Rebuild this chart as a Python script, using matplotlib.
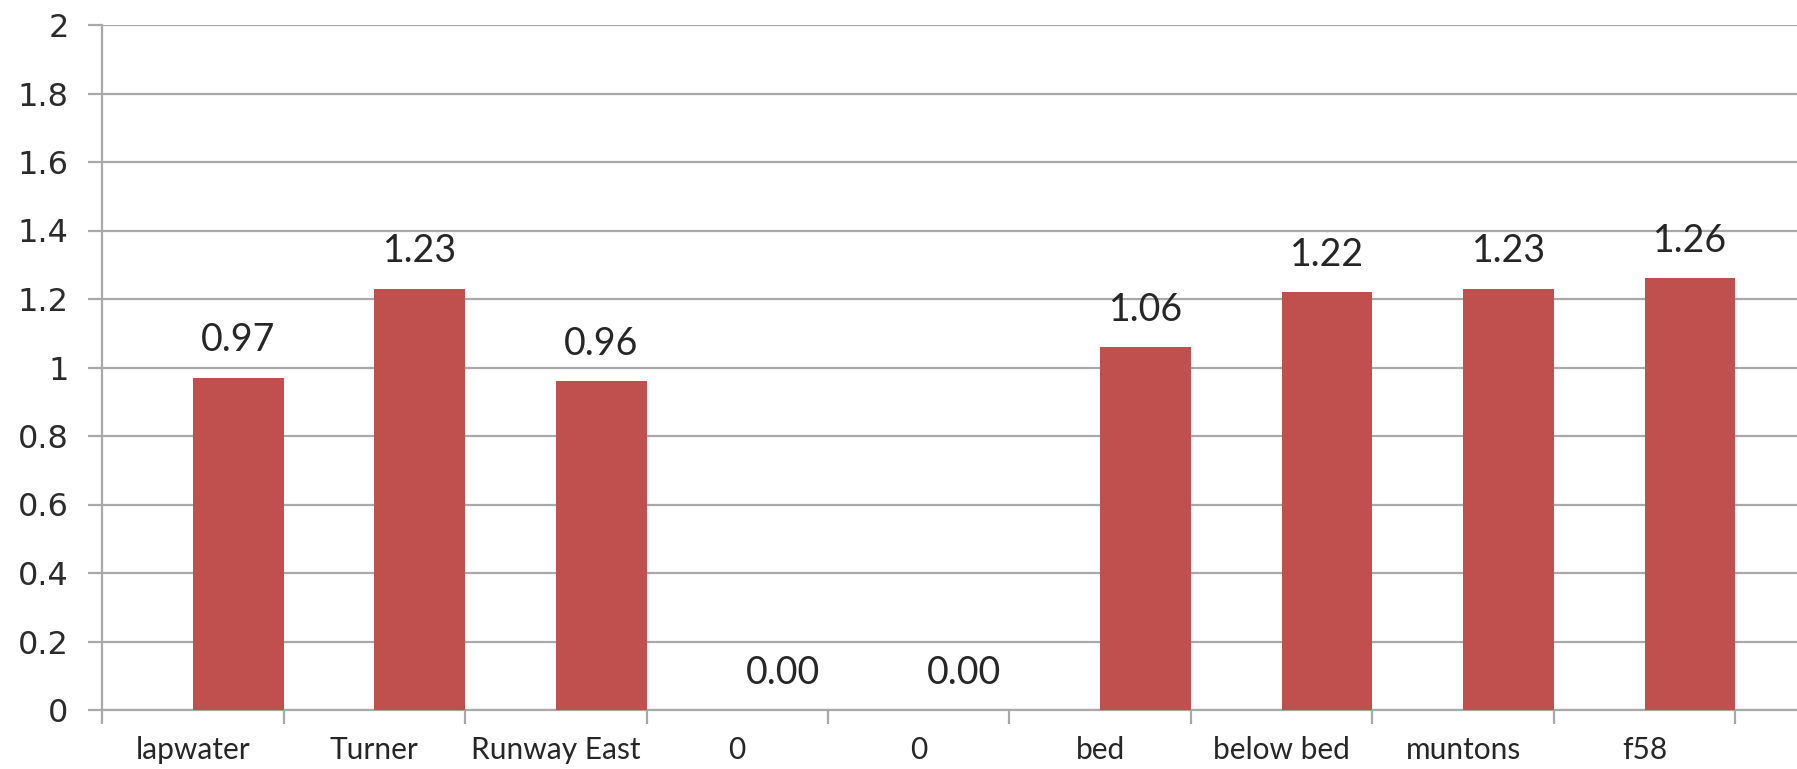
import matplotlib
matplotlib.use("Agg")
import matplotlib.pyplot as plt
from matplotlib.ticker import FixedLocator

categories = ["lapwater", "Turner", "Runway East", "0", "0", "bed", "below bed", "muntons", "f58"]
values = [0.97, 1.23, 0.96, 0.00, 0.00, 1.06, 1.22, 1.23, 1.26]
y_ticks = [0, 0.2, 0.4, 0.6, 0.8, 1, 1.2, 1.4, 1.6, 1.8, 2]
y_labels = ["0", "0.2", "0.4", "0.6", "0.8", "1", "1.2", "1.4", "1.6", "1.8", "2"]

W, H, DPI = 1797, 769, 100
fig = plt.figure(figsize=(W / DPI, H / DPI), dpi=DPI)
left = 102 / W
bottom = (H - 710) / H
top = (H - 25) / H
ax = fig.add_axes([left, bottom, 1 - left, top - bottom])

bar_color = "#C0504D"
grid_color = "#A9A9A9"
x = list(range(len(categories)))
bx = [i + 0.25 for i in x]
ax.bar(bx, values, width=0.5, color=bar_color, zorder=3)

for xi, v in zip(bx, values):
    ax.annotate(f"{v:.2f}", (xi, v), xytext=(0, 19), textcoords="offset points",
                ha="center", va="baseline", fontsize=27, family="Lato", color="#262626")

cat_w = 181.5
ax.set_xlim(-0.5, -0.5 + (W - 102) / cat_w)
ax.set_ylim(0, 2)
ax.set_yticks(y_ticks)
ax.set_yticklabels(y_labels, fontsize=23, family="DejaVu Sans", color="#2b2b2b")
ax.yaxis.grid(True, color=grid_color, linewidth=1.6, zorder=0)
ax.tick_params(axis="y", length=10, width=1.6, color=grid_color, pad=14)

ax.set_xticks(x)
ax.set_xticklabels(categories, fontsize=21.5, family="Lato", color="#262626")
ax.xaxis.set_minor_locator(FixedLocator([i - 0.5 for i in range(len(categories) + 1)]))
ax.tick_params(axis="x", which="major", length=0, pad=19)
ax.tick_params(axis="x", which="minor", length=10, width=1.6, color=grid_color)

for s in ["top", "right"]:
    ax.spines[s].set_visible(False)
ax.spines["left"].set_color(grid_color)
ax.spines["left"].set_linewidth(1.6)
ax.spines["bottom"].set_color(grid_color)
ax.spines["bottom"].set_linewidth(1.6)
ax.spines["left"].set_zorder(4)

fig.savefig("out.png", dpi=DPI)
